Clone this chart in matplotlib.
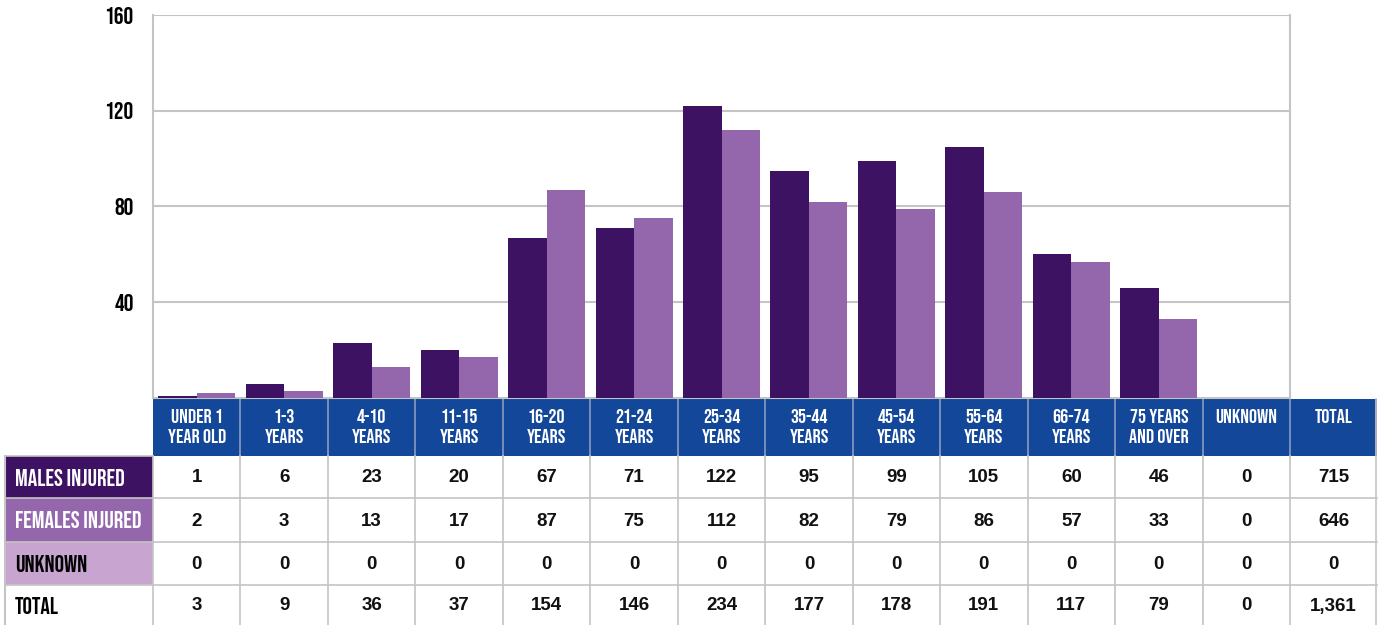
import matplotlib
matplotlib.use("Agg")
import matplotlib.pyplot as plt
from matplotlib import font_manager
from matplotlib.patches import Rectangle
import numpy as np

# ---------------- data ----------------
categories = ["UNDER 1\nYEAR OLD", "1-3\nYEARS", "4-10\nYEARS", "11-15\nYEARS", "16-20\nYEARS",
              "21-24\nYEARS", "25-34\nYEARS", "35-44\nYEARS", "45-54\nYEARS", "55-64\nYEARS",
              "66-74\nYEARS", "75 YEARS\nAND OVER", "UNKNOWN"]
total_header = "TOTAL"
males = [1, 6, 23, 20, 67, 71, 122, 95, 99, 105, 60, 46, 0]
females = [2, 3, 13, 17, 87, 75, 112, 82, 79, 86, 57, 33, 0]
unknown = [0, 0, 0, 0, 0, 0, 0, 0, 0, 0, 0, 0, 0]
row_labels = ["MALES INJURED", "FEMALES INJURED", "UNKNOWN", "TOTAL"]
y_ticks = [40, 80, 120, 160]

# ---------------- style ----------------
C_MALE = "#3d1263"
C_FEMALE = "#9467ac"
C_UNK = "#c8a5d0"
C_HEAD = "#134799"
C_GRID = "#c4c4c4"

avail = {f.name for f in font_manager.fontManager.ttflist}
cond_kw = None
scale = 1.0
for cand, weight, sc in [("Bebas Neue", "normal", 1.0), ("Oswald", "bold", 0.85),
                         ("IBM Plex Sans Condensed", "bold", 0.8),
                         ("Liberation Sans Narrow", "bold", 0.8)]:
    if cand in avail:
        cond_kw = dict(family=cand, fontweight=weight)
        scale = sc
        break
if cond_kw is None:
    cond_kw = dict(family="DejaVu Sans", fontweight="bold")
    scale = 0.7
num_font = "Liberation Sans" if "Liberation Sans" in avail else "DejaVu Sans"

W, H = 1380, 625
fig = plt.figure(figsize=(W / 100, H / 100), dpi=100)

# ---------------- bar chart ----------------
L, R, T, B = 153, 1290, 15, 398
ax = fig.add_axes([L / W, 1 - B / H, (R - L) / W, (B - T) / H])
n = len(categories)
x = np.arange(n)
bw = 0.44
ax.bar(x - bw, males, width=bw, align="edge", color=C_MALE, zorder=3)
ax.bar(x, females, width=bw, align="edge", color=C_FEMALE, zorder=3)
ax.set_xlim(-0.5, n - 0.5)
ax.set_ylim(0, 160)
ax.set_yticks(y_ticks)
ax.set_yticklabels([str(v) for v in y_ticks], **cond_kw, fontsize=17.5 * scale)
ax.tick_params(axis="y", length=0, pad=14)
ax.set_xticks([])
ax.yaxis.grid(True, color=C_GRID, linewidth=1.5, zorder=0)
for side in ["left", "right", "top", "bottom"]:
    ax.spines[side].set_color(C_GRID)
    ax.spines[side].set_linewidth(1.5)
ax.spines["top"].set_visible(False)

# ---------------- table ----------------
tax = fig.add_axes([0, 0, 1, 1], zorder=-1)
tax.set_xlim(0, W)
tax.set_ylim(H, 0)
tax.axis("off")

cw = (R - L) / n
col_edges = [L + cw * i for i in range(n + 2)]
row_edges = [399, 456, 498, 542, 585, 625]

# header
tax.add_patch(Rectangle((L, row_edges[0]), col_edges[-1] - L, row_edges[1] - row_edges[0],
                        facecolor=C_HEAD, edgecolor="none"))
headers = categories + [total_header]
for i, h in enumerate(headers):
    cx = (col_edges[i] + col_edges[i + 1]) / 2
    tax.text(cx, 409, h, ha="center", va="top", color="white", fontsize=14.5 * scale,
             linespacing=1.45, **cond_kw)
for e in col_edges[1:-1]:
    tax.plot([e, e], [row_edges[0], row_edges[1]], color="#8a9cc0", lw=1.2)

# row label cells
row_colors = [C_MALE, C_FEMALE, C_UNK, "white"]
row_text_colors = ["white", "white", "black", "black"]
for r in range(4):
    y0, y1 = row_edges[r + 1], row_edges[r + 2]
    tax.add_patch(Rectangle((5, y0), L - 5, y1 - y0, facecolor=row_colors[r], edgecolor="none"))
    tax.text(15, (y0 + y1) / 2, row_labels[r], ha="left", va="center",
             color=row_text_colors[r], fontsize=17 * scale, **cond_kw)

# values
totals_row = [m + f + u for m, f, u in zip(males, females, unknown)]
rows = [males, females, unknown, totals_row]
for r, vals in enumerate(rows):
    y0, y1 = row_edges[r + 1], row_edges[r + 2]
    allvals = list(vals) + [sum(vals)]
    for i, v in enumerate(allvals):
        cx = (col_edges[i] + col_edges[i + 1]) / 2
        tax.text(cx, (y0 + y1) / 2 + 1, f"{v:,}", ha="center", va="center",
                 color="#111111", fontsize=13.5, fontweight="bold", family=num_font)

# grid lines of table
for e in row_edges[2:-1]:
    tax.plot([5, col_edges[-1]], [e, e], color=C_GRID, lw=1.2)
tax.plot([5, L], [row_edges[1], row_edges[1]], color=C_GRID, lw=1.2)
tax.plot([5, 5], [row_edges[1], H], color=C_GRID, lw=1.5)
for e in col_edges[:-1]:
    tax.plot([e, e], [row_edges[1], H], color=C_GRID, lw=1.2)
tax.plot([col_edges[-1] - 1, col_edges[-1] - 1], [row_edges[0], H], color=C_GRID, lw=1.2)

fig.savefig("out.png", dpi=100, facecolor="white")
